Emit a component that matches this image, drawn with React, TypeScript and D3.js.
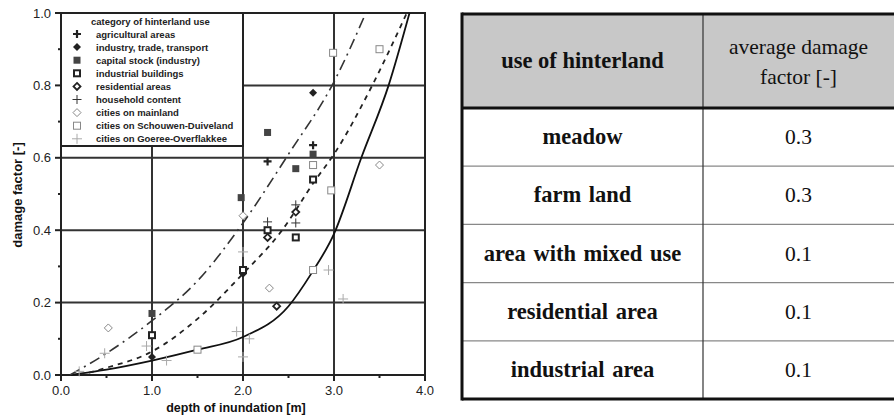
import React from 'react';
import * as d3 from 'd3';

const W = 894;
const H = 415;

// axis ticks
const xMajor = [0, 1, 2, 3, 4];
const xMinor = [0.5, 1.5, 2.5, 3.5];
const yMajor = [0, 0.2, 0.4, 0.6, 0.8, 1.0];
const yMinor = [0.1, 0.3, 0.5, 0.7, 0.9];
const xGrid = [1, 2, 3];
const yGrid = [0.2, 0.4, 0.6, 0.8];

// fitted curves [depth, damage]
const solidCurve: [number, number][] = [
  [0.1, 0], [0.5, 0.015], [1.0, 0.04], [1.5, 0.07], [2.0, 0.105], [2.5, 0.19],
  [2.75, 0.28], [3.0, 0.39], [3.3, 0.6], [3.6, 0.8], [3.83, 1.0],
];
const dashedCurve: [number, number][] = [
  [0.2, 0], [0.5, 0.02], [1.0, 0.065], [1.5, 0.155], [2.0, 0.28], [2.4, 0.39],
  [2.8, 0.54], [3.0, 0.61], [3.4, 0.79], [3.8, 1.0],
];
const dashDotCurve: [number, number][] = [
  [0.1, 0], [0.5, 0.06], [1.0, 0.15], [1.5, 0.26], [2.0, 0.42], [2.5, 0.61],
  [3.0, 0.81], [3.35, 1.0],
];

// observations per category
const agricultural: [number, number][] = [[2.27, 0.59], [2.77, 0.635]];
const industryTrade: [number, number][] = [[2.77, 0.78], [2.0, 0.28], [1.0, 0.05]];
const capitalStock: [number, number][] = [[1.0, 0.17], [1.98, 0.49], [2.27, 0.67], [2.58, 0.57], [2.77, 0.61]];
const industrialBuildings: [number, number][] = [[1.0, 0.11], [2.0, 0.29], [2.27, 0.4], [2.58, 0.38], [2.77, 0.54]];
const residential: [number, number][] = [[2.27, 0.38], [2.58, 0.45], [2.37, 0.19]];
const household: [number, number][] = [[2.27, 0.423], [2.58, 0.42], [2.58, 0.47]];
const mainland: [number, number][] = [[0.52, 0.13], [2.0, 0.44], [2.29, 0.24], [3.5, 0.58]];
const schouwen: [number, number][] = [[1.5, 0.07], [2.77, 0.29], [2.77, 0.58], [2.97, 0.51], [2.99, 0.89], [3.5, 0.9]];
const goeree: [number, number][] = [
  [0.2, 0.01], [0.48, 0.06], [0.94, 0.08], [1.16, 0.04], [1.93, 0.12], [2.07, 0.1],
  [2.0, 0.05], [2.0, 0.34], [2.94, 0.29], [3.1, 0.21],
];

const legendTitle = 'category of hinterland use';
const legendLabels = [
  'agricultural areas',
  'industry, trade, transport',
  'capital stock (industry)',
  'industrial buildings',
  'residential areas',
  'household content',
  'cities on mainland',
  'cities on Schouwen-Duiveland',
  'cities on Goeree-Overflakkee',
];
const markerTypes = [
  'plusBold', 'diamondFilled', 'squareFilled', 'squareThick', 'diamondThick',
  'plusThin', 'diamondOpen', 'squareOpen', 'plusLight',
];
const seriesData = [
  agricultural, industryTrade, capitalStock, industrialBuildings, residential,
  household, mainland, schouwen, goeree,
];

// table
const tableHeader1 = 'use of hinterland';
const tableHeader2 = ['average damage', 'factor [-]'];
const tableUse = ['meadow', 'farm land', 'area with mixed use', 'residential area', 'industrial area'];
const tableValue = ['0.3', '0.3', '0.1', '0.1', '0.1'];

const x = d3.scaleLinear().domain([0, 4]).range([61, 425]);
const y = d3.scaleLinear().domain([0, 1]).range([375, 13]);

function Marker({ type, cx, cy }: { type: string; cx: number; cy: number }) {
  switch (type) {
    case 'plusBold':
      return <path d={`M${cx - 4},${cy}H${cx + 4}M${cx},${cy - 4}V${cy + 4}`} stroke="#222" strokeWidth={2.2} />;
    case 'diamondFilled':
      return <path d={`M${cx},${cy - 4}L${cx + 4},${cy}L${cx},${cy + 4}L${cx - 4},${cy}Z`} fill="#222" />;
    case 'squareFilled':
      return <rect x={cx - 3.5} y={cy - 3.5} width={7} height={7} fill="#444" />;
    case 'squareThick':
      return <rect x={cx - 3} y={cy - 3} width={6} height={6} fill="#fff" stroke="#222" strokeWidth={2} />;
    case 'diamondThick':
      return <path d={`M${cx},${cy - 3.5}L${cx + 3.5},${cy}L${cx},${cy + 3.5}L${cx - 3.5},${cy}Z`} fill="#fff" stroke="#222" strokeWidth={1.8} />;
    case 'plusThin':
      return <path d={`M${cx - 4.5},${cy}H${cx + 4.5}M${cx},${cy - 4.5}V${cy + 4.5}`} stroke="#333" strokeWidth={1} />;
    case 'diamondOpen':
      return <path d={`M${cx},${cy - 4}L${cx + 4},${cy}L${cx},${cy + 4}L${cx - 4},${cy}Z`} fill="#fff" stroke="#888" strokeWidth={1} />;
    case 'squareOpen':
      return <rect x={cx - 3.5} y={cy - 3.5} width={7} height={7} fill="#fff" stroke="#888" strokeWidth={1} />;
    case 'plusLight':
    default:
      return <path d={`M${cx - 5},${cy}H${cx + 5}M${cx},${cy - 5}V${cy + 5}`} stroke="#aaa" strokeWidth={1} />;
  }
}

export default function App() {
  const line = d3.line<[number, number]>()
    .x((d) => x(d[0]))
    .y((d) => y(d[1]))
    .curve(d3.curveMonotoneX);

  const sans = 'Liberation Sans, Arial, sans-serif';
  const serif = 'Liberation Serif, Times New Roman, serif';

  const tLeft = 462, tRight = 894, tTop = 14, tHead = 108, tBottom = 399, tCol = 703;
  const rowH = (tBottom - tHead) / tableUse.length;

  return (
    <svg width={W} height={H} style={{ position: 'absolute', left: 0, top: 0, background: '#fff' }}>
      {/* grid */}
      {xGrid.map((v) => (
        <line key={'gx' + v} x1={x(v)} x2={x(v)} y1={y(0)} y2={y(1)} stroke="#333" strokeWidth={2} />
      ))}
      {yGrid.map((v) => (
        <line key={'gy' + v} x1={x(0)} x2={x(4)} y1={y(v)} y2={y(v)} stroke="#333" strokeWidth={2} />
      ))}
      {/* frame */}
      <rect x={x(0)} y={y(1)} width={x(4) - x(0)} height={y(0) - y(1)} fill="none" stroke="#222" strokeWidth={2} />
      {/* ticks */}
      {xMajor.map((v) => (
        <g key={'xt' + v}>
          <line x1={x(v)} x2={x(v)} y1={y(0)} y2={y(0) + 6} stroke="#222" strokeWidth={2} />
          <text x={x(v)} y={395} textAnchor="middle" fontFamily={sans} fontSize={13} fill="#222">{v.toFixed(1)}</text>
        </g>
      ))}
      {xMinor.map((v) => (
        <line key={'xm' + v} x1={x(v)} x2={x(v)} y1={y(0)} y2={y(0) + 3} stroke="#222" strokeWidth={2} />
      ))}
      {yMajor.map((v) => (
        <g key={'yt' + v}>
          <line x1={x(0) - 6} x2={x(0)} y1={y(v)} y2={y(v)} stroke="#222" strokeWidth={2} />
          <text x={51} y={y(v) + 4.5} textAnchor="end" fontFamily={sans} fontSize={13} fill="#222">{v.toFixed(1)}</text>
        </g>
      ))}
      {yMinor.map((v) => (
        <line key={'ym' + v} x1={x(0) - 3} x2={x(0)} y1={y(v)} y2={y(v)} stroke="#222" strokeWidth={2} />
      ))}
      {/* axis titles */}
      <text x={236} y={411.5} textAnchor="middle" fontFamily={sans} fontWeight="bold" fontSize={12.5} fill="#111">depth of inundation [m]</text>
      <text transform={`translate(22,${195}) rotate(-90)`} textAnchor="middle" fontFamily={sans} fontWeight="bold" fontSize={13} fill="#111">damage factor [-]</text>

      {/* curves */}
      <path d={line(solidCurve) || ''} fill="none" stroke="#111" strokeWidth={1.8} />
      <path d={line(dashedCurve) || ''} fill="none" stroke="#222" strokeWidth={1.8} strokeDasharray="5,5" />
      <path d={line(dashDotCurve) || ''} fill="none" stroke="#333" strokeWidth={1.6} strokeDasharray="11,5,2,5" />

      {/* points */}
      {seriesData.map((s, i) =>
        s.map((d, j) => <Marker key={`p${i}-${j}`} type={markerTypes[i]} cx={x(d[0])} cy={y(d[1])} />)
      )}

      {/* legend */}
      <rect x={x(0)} y={y(1)} width={x(2) - x(0)} height={146 - y(1)} fill="#fff" stroke="#222" strokeWidth={2} />
      <text x={91} y={25} fontFamily={sans} fontWeight="bold" fontSize={9.5} fill="#222">{legendTitle}</text>
      {legendLabels.map((l, i) => {
        const cy = 34 + i * 13.1;
        return (
          <g key={'lg' + i}>
            <Marker type={markerTypes[i]} cx={77} cy={cy} />
            <text x={96} y={cy + 3.5} fontFamily={sans} fontWeight="bold" fontSize={9.5} fill="#222">{l}</text>
          </g>
        );
      })}

      {/* table */}
      <rect x={tLeft} y={tTop} width={tRight - tLeft} height={tHead - tTop} fill="#c8c8c8" />
      {tableUse.slice(0, -1).map((_, i) => (
        <line key={'rl' + i} x1={tLeft} x2={tRight} y1={tHead + rowH * (i + 1)} y2={tHead + rowH * (i + 1)} stroke="#888" strokeWidth={1.2} />
      ))}
      <line x1={tCol} x2={tCol} y1={tTop} y2={tBottom} stroke="#333" strokeWidth={1.2} />
      <line x1={tLeft} x2={tRight} y1={tHead} y2={tHead} stroke="#111" strokeWidth={3} />
      <line x1={tLeft} x2={tRight} y1={tTop} y2={tTop} stroke="#111" strokeWidth={3} />
      <line x1={tLeft} x2={tRight} y1={tBottom} y2={tBottom} stroke="#111" strokeWidth={3} />
      <line x1={tLeft} x2={tLeft} y1={tTop - 1.5} y2={tBottom + 1.5} stroke="#111" strokeWidth={3} />
      <text x={(tLeft + tCol) / 2} y={68} textAnchor="middle" fontFamily={serif} fontWeight="bold" fontSize={22.5} fill="#111">{tableHeader1}</text>
      {tableHeader2.map((t, i) => (
        <text key={'h2' + i} x={(tCol + tRight) / 2} y={54 + i * 30} textAnchor="middle" fontFamily={serif} fontSize={21.5} fill="#111">{t}</text>
      ))}
      {tableUse.map((u, i) => {
        const cy = tHead + rowH * (i + 0.5);
        return (
          <g key={'tr' + i}>
            <text x={(tLeft + tCol) / 2} y={cy + 7} textAnchor="middle" fontFamily={serif} fontWeight="bold" fontSize={22.5} wordSpacing={2} fill="#111">{u}</text>
            <text x={(tCol + tRight) / 2} y={cy + 7} textAnchor="middle" fontFamily={serif} fontSize={21.5} fill="#111">{tableValue[i]}</text>
          </g>
        );
      })}
    </svg>
  );
}
